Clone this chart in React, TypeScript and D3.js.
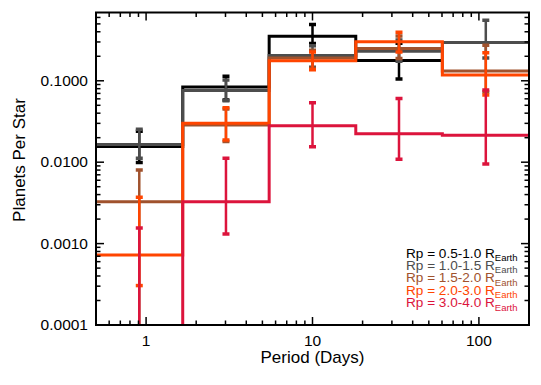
import { useRef, useEffect } from 'react';
import * as d3 from 'd3';

// Period bin edges and centres (days)
const binEdges = [0.5, 1.66, 5.49, 18.2, 60.3, 200];
const binCenters = [0.91, 3.02, 10.0, 33.1, 110];

// Occurrence per bin (planets per star), 0 = below axis
const labels = ['0.5-1.0', '1.0-1.5', '1.5-2.0', '2.0-3.0', '3.0-4.0'];
const colors = ['#000000', '#4d4d4d', '#a0522d', '#ff4500', '#dc143c'];

const rate05 = [0.0156, 0.0837, 0.353, 0.178];
const up05 = [0.024, 0.114, 0.492, 0.29];
const lo05 = [0.0099, 0.058, 0.288, 0.105];

const rate10 = [0.0165, 0.0758, 0.204, 0.231, 0.296];
const up10 = [0.0254, 0.102, 0.27, 0.316, 0.556];
const lo10 = [0.0112, 0.0569, 0.147, 0.174, 0.191];

const rate15 = [0.00327, 0.0286, 0.19, 0.25, 0.1316];
const up15 = [0.008, 0.045, 0.238, 0.354, 0.274];
const lo15 = [0, 0.018, 0.143, 0.188, 0.0726];

const rate20 = [0.000726, 0.03, 0.176, 0.301, 0.1175];
const up20 = [0.00371, 0.0467, 0.225, 0.396, 0.221];
const lo20 = [0.000305, 0.0187, 0.137, 0.225, 0.0668];

const rate30 = [0, 0.00327, 0.028, 0.0224, 0.0214];
const up30 = [0.00155, 0.0112, 0.0537, 0.0608, 0.0769];
const lo30 = [0, 0.00131, 0.0155, 0.0109, 0.0095];

const yTickLabels = ['0.0001', '0.0010', '0.0100', '0.1000'];
const xTickLabels = ['1', '10', '100'];

const series = [
  { rate: rate05, up: up05, lo: lo05 },
  { rate: rate10, up: up10, lo: lo10 },
  { rate: rate15, up: up15, lo: lo15 },
  { rate: rate20, up: up20, lo: lo20 },
  { rate: rate30, up: up30, lo: lo30 },
];

export default function App() {
  const ref = useRef<SVGSVGElement>(null);
  const width = 541;
  const height = 385;

  useEffect(() => {
    const svg = d3.select(ref.current);
    svg.selectAll('*').remove();

    const left = 96, right = 529, top = 12.5, bottom = 325;
    const x = d3.scaleLog().domain([0.5, 200]).range([left, right]);
    const y = d3.scaleLog().domain([1e-4, 0.69]).range([bottom, top]);
    const yv = (v: number) => y(Math.max(v, 1e-7));
    const font = 'Liberation Sans, Arial, sans-serif';

    svg.append('defs').append('clipPath').attr('id', 'plot-clip')
      .append('rect')
        .attr('x', left).attr('y', top)
        .attr('width', right - left).attr('height', bottom - top);

    const plot = svg.append('g').attr('clip-path', 'url(#plot-clip)');

    const line = d3.line<[number, number]>()
      .x(d => x(d[0]))
      .y(d => yv(d[1]));

    series.forEach((s, k) => {
      const pts: [number, number][] = [];
      s.rate.forEach((v, i) => {
        pts.push([binEdges[i], v]);
        pts.push([binEdges[i + 1], v]);
      });
      const g = plot.append('g');
      g.append('path')
        .attr('d', line(pts))
        .attr('fill', 'none')
        .attr('stroke', colors[k])
        .attr('stroke-width', 3)
        .attr('stroke-linejoin', 'miter')
        .attr('stroke-linecap', 'butt');

      // Error bars
      s.rate.forEach((_, i) => {
        const cx = x(binCenters[i]);
        g.append('line')
          .attr('x1', cx).attr('x2', cx)
          .attr('y1', yv(s.up[i])).attr('y2', yv(s.lo[i]))
          .attr('stroke', colors[k]).attr('stroke-width', 2.5);
        [s.up[i], s.lo[i]].forEach(v => {
          g.append('line')
            .attr('x1', cx - 3.5).attr('x2', cx + 3.5)
            .attr('y1', yv(v)).attr('y2', yv(v))
            .attr('stroke', colors[k]).attr('stroke-width', 3.5);
        });
      });
    });

    // Frame and ticks
    const axes = svg.append('g').attr('stroke', '#000');
    axes.append('rect')
      .attr('x', left).attr('y', top)
      .attr('width', right - left).attr('height', bottom - top)
      .attr('fill', 'none').attr('stroke-width', 2);

    const xMajor = [1, 10, 100];
    const xMinor: number[] = [];
    [0.1, 1, 10, 100].forEach(d => {
      for (let m = 2; m <= 9; m++) {
        const v = d * m;
        if (v > 0.5 && v < 200) xMinor.push(v);
      }
    });
    const yMajor = [1e-4, 1e-3, 1e-2, 1e-1];
    const yMinor: number[] = [];
    [1e-4, 1e-3, 1e-2, 1e-1].forEach(d => {
      for (let m = 2; m <= 9; m++) {
        const v = d * m;
        if (v < 0.69) yMinor.push(v);
      }
    });

    const xt = (v: number, len: number) => {
      axes.append('line').attr('x1', x(v)).attr('x2', x(v))
        .attr('y1', bottom).attr('y2', bottom - len).attr('stroke-width', 1.5);
      axes.append('line').attr('x1', x(v)).attr('x2', x(v))
        .attr('y1', top).attr('y2', top + len).attr('stroke-width', 1.5);
    };
    const yt = (v: number, len: number) => {
      axes.append('line').attr('y1', y(v)).attr('y2', y(v))
        .attr('x1', left).attr('x2', left + len).attr('stroke-width', 1.5);
      axes.append('line').attr('y1', y(v)).attr('y2', y(v))
        .attr('x1', right).attr('x2', right - len).attr('stroke-width', 1.5);
    };
    xMajor.forEach(v => xt(v, 8));
    xMinor.forEach(v => xt(v, 4.5));
    yMajor.forEach(v => yt(v, 8));
    yMinor.forEach(v => yt(v, 4.5));

    // Tick labels
    svg.selectAll('text.ylab').data(yMajor).enter()
      .append('text')
        .attr('class', 'ylab')
        .attr('x', left - 8).attr('y', d => y(d) + 5)
        .attr('text-anchor', 'end')
        .attr('font-family', font).attr('font-size', 15.5)
        .text((_, i) => yTickLabels[i]);

    svg.selectAll('text.xlab').data(xMajor).enter()
      .append('text')
        .attr('class', 'xlab')
        .attr('x', d => x(d)).attr('y', 346)
        .attr('text-anchor', 'middle')
        .attr('font-family', font).attr('font-size', 15.5)
        .text((_, i) => xTickLabels[i]);

    // Axis titles
    svg.append('text')
      .attr('x', (left + right) / 2).attr('y', 363)
      .attr('text-anchor', 'middle')
      .attr('font-family', font).attr('font-size', 17)
      .text('Period (Days)');
    svg.append('text')
      .attr('transform', 'translate(25,160) rotate(-90)')
      .attr('text-anchor', 'middle')
      .attr('font-family', font).attr('font-size', 17)
      .text('Planets Per Star');

    // Legend
    labels.forEach((lab, i) => {
      const t = svg.append('text')
        .attr('x', 406).attr('y', 257.5 + i * 12.4)
        .attr('font-family', font).attr('font-size', 13.6)
        .attr('fill', colors[i]);
      t.append('tspan').text(`Rp = ${lab} R`);
      t.append('tspan').attr('font-size', 9.5).attr('dy', 3.5).text('Earth');
    });
  }, []);

  return (
    <svg
      ref={ref}
      width={width}
      height={height}
      style={{ position: 'absolute', left: 0, top: 0, background: '#fff' }}
    />
  );
}
